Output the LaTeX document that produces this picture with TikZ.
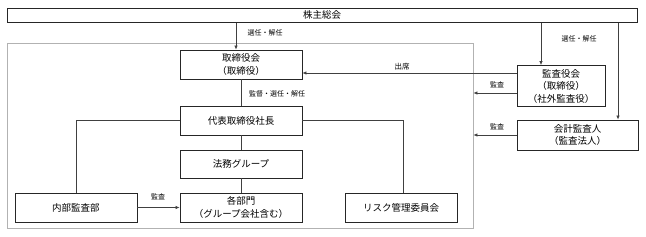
\documentclass[tikz,border=0pt]{standalone}
\usepackage{fontspec}
\setmainfont{Noto Sans CJK JP}
\usetikzlibrary{arrows.meta}

\tikzset{
  box/.style={draw=black!85, line width=0.8pt, minimum height=29pt, align=center,
    inner sep=0pt, font=\fontsize{9.5}{12.5}\selectfont},
  lbl/.style={font=\fontsize{7}{8}\selectfont, inner sep=0pt},
  conn/.style={draw=black!75, line width=0.7pt},
  arr/.style={conn, -{Latex[length=4pt,width=3.5pt]}}
}

\begin{document}
\begin{tikzpicture}[x=1pt, y=-1pt]
  \useasboundingbox (0,0) rectangle (646,237);

  % 社内の枠
  \node[draw=black!30, line width=0.8pt, minimum width=466pt, minimum height=185pt,
    inner sep=0pt] (frame) at (240,135.5) {};

  % 株主総会
  \node[box, minimum width=630pt, minimum height=14.7pt] (sh) at (322,15.3) {株主総会};

  % 社内の機関
  \node[box, minimum width=122pt] (board) at (241,64.5) {取締役会\\（取締役）};
  \node[box, minimum width=122pt] (pres) at (241,120.5) {代表取締役社長};
  \node[box, minimum width=122pt, minimum height=28pt] (legal) at (241,164) {法務グループ};
  \node[box, minimum width=122pt] (dept) at (241,207.5) {各部門\\（グループ会社含む）};
  \node[box, minimum width=122pt] (audit) at (76,207.5) {内部監査部};
  \node[box, minimum width=112pt] (risk) at (401,207.5) {リスク管理委員会};

  % 監査役会と会計監査人
  \node[box, minimum width=88pt, minimum height=41pt] (ksy) at (561,86) {監査役会\\（取締役）\\（社外監査役）};
  \node[box, minimum width=121pt, minimum height=30pt] (acc) at (577.5,135) {会計監査人\\（監査法人）};

  % 株主総会から
  \coordinate (b1) at ([xshift=-5pt]board.north);
  \draw[arr] (sh.south -| b1) -- (b1);
  \node[lbl] (sel1) at (265,33) {選任・解任};
  \coordinate (k1) at ([xshift=-20pt]ksy.north);
  \draw[arr] (sh.south -| k1) -- (k1);
  \coordinate (a1) at ([xshift=40.5pt]acc.north);
  \draw[arr] (sh.south -| a1) -- (a1);
  \node[lbl] (sel2) at (579,39) {選任・解任};

  % 社内の線
  \draw[conn] (board.south) -- (pres.north);
  \node[lbl] (sup) at (277,94) {監督・選任・解任};
  \draw[conn] (pres.south) -- (legal.north);
  \draw[conn] (legal.south) -- (dept.north);
  \draw[conn] (pres.west) -| (audit.north);
  \draw[conn] (pres.east) -| ([xshift=2pt]risk.north);
  \draw[arr] (audit.east) -- (dept.west);
  \node[lbl] (aud1) at (158,197) {監査};

  % 監査役会・会計監査人から
  \coordinate (c1) at ([yshift=-8.5pt]board.east);
  \draw[arr] (ksy.west |- c1) -- (c1);
  \node[lbl, font=\fontsize{7.5}{9}\selectfont] (att) at (402,67) {出席};
  \coordinate (c2) at ([yshift=-7pt]ksy.west);
  \draw[arr] (c2) -- (frame.east |- c2);
  \node[lbl] (aud2) at (497,85) {監査};
  \draw[arr] (acc.west) -- (frame.east |- acc.west);
  \node[lbl] (aud3) at (497,127) {監査};
\end{tikzpicture}
\end{document}
